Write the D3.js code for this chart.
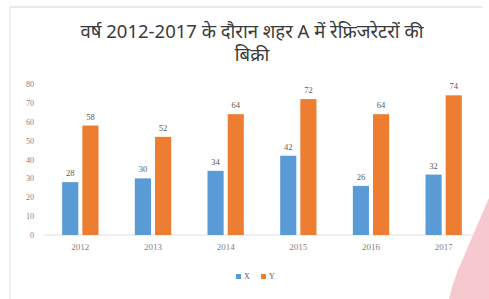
<!DOCTYPE html>
<html>
<head>
<meta charset="utf-8">
<script src="https://cdn.jsdelivr.net/npm/d3@7"></script>
<style>
  body { margin: 0; background: #fff; }
  svg { display: block; }
</style>
</head>
<body>
<svg id="chart"></svg>
<script>
// Chart data
const years = ["2012", "2013", "2014", "2015", "2016", "2017"];
const seriesNames = ["X", "Y"];
const valuesX = [28, 30, 34, 42, 26, 32];
const valuesY = [58, 52, 64, 72, 64, 74];
const yTicks = [0, 10, 20, 30, 40, 50, 60, 70, 80];
const titleLines = ["वर्ष 2012-2017 के दौरान शहर A में रेफ्रिजरेटरों की", "बिक्री"];

const width = 489;
const height = 299;
const colors = { X: "#5b9bd5", Y: "#ed7d31" };

const svg = d3.select("#chart")
  .attr("width", width)
  .attr("height", height);

// frame of the chart area
svg.append("line")
  .attr("x1", 10).attr("x2", 482).attr("y1", 7).attr("y2", 7)
  .attr("stroke", "#d4d4d4");
svg.append("line")
  .attr("x1", 10).attr("x2", 10).attr("y1", 7).attr("y2", 299)
  .attr("stroke", "#e4e4e4");

// title
svg.append("text")
  .attr("text-anchor", "middle")
  .attr("font-family", "'Noto Sans', 'Noto Serif', sans-serif")
  .attr("font-size", 18.5)
  .attr("fill", "#3a3a3a")
  .selectAll("tspan")
  .data(titleLines)
  .join("tspan")
  .attr("x", 252)
  .attr("y", (d, i) => 38 + i * 23)
  .text(d => d);

const table = years.map((year, i) => ({ year, X: valuesX[i], Y: valuesY[i] }));

// scales
const x0 = d3.scaleBand()
  .domain(years)
  .range([44, 480])
  .paddingInner(0.5)
  .paddingOuter(0.25);

const x1 = d3.scaleBand()
  .domain(seriesNames)
  .range([0, x0.bandwidth()])
  .paddingInner(0.2);

const y = d3.scaleLinear()
  .domain([0, 80])
  .range([235, 84]);

// y axis labels
svg.append("g")
  .attr("transform", "translate(34,0)")
  .call(d3.axisLeft(y).tickValues(yTicks).tickSize(0).tickPadding(0))
  .call(g => g.select(".domain").remove())
  .selectAll("text")
  .attr("font-family", "'Liberation Serif', serif")
  .attr("font-size", 8)
  .attr("fill", "#7f7f7f");

// x axis
svg.append("g")
  .attr("transform", "translate(0,235)")
  .call(d3.axisBottom(x0).tickSize(0).tickPadding(9))
  .call(g => g.select(".domain").attr("stroke", "#e0e0e0").attr("d", "M44,0H480"))
  .selectAll("text")
  .attr("font-family", "'Liberation Serif', serif")
  .attr("font-size", 9)
  .attr("fill", "#7f7f7f");

// bars
const groups = svg.append("g")
  .selectAll("g")
  .data(table)
  .join("g")
  .attr("transform", d => `translate(${x0(d.year)},0)`);

groups.selectAll("rect")
  .data(d => seriesNames.map(key => ({ key, value: d[key] })))
  .join("rect")
  .attr("x", d => x1(d.key))
  .attr("y", d => y(d.value))
  .attr("width", x1.bandwidth())
  .attr("height", d => y(0) - y(d.value))
  .attr("fill", d => colors[d.key]);

groups.selectAll("text")
  .data(d => seriesNames.map(key => ({ key, value: d[key] })))
  .join("text")
  .attr("x", d => x1(d.key) + x1.bandwidth() / 2)
  .attr("y", d => y(d.value) - 6)
  .attr("text-anchor", "middle")
  .attr("font-family", "'Liberation Serif', serif")
  .attr("font-size", 8.5)
  .attr("fill", "#595959")
  .text(d => d.value);

// legend
const legend = svg.append("g")
  .attr("transform", "translate(236,274)");
const items = legend.selectAll("g")
  .data(seriesNames)
  .join("g")
  .attr("transform", (d, i) => `translate(${i * 25},0)`);
items.append("rect")
  .attr("width", 5).attr("height", 5)
  .attr("fill", d => colors[d]);
items.append("text")
  .attr("x", 8).attr("y", 5)
  .attr("font-family", "'Liberation Serif', serif")
  .attr("font-size", 8)
  .attr("fill", "#595959")
  .text(d => d);

// pink watermark corner
svg.append("path")
  .attr("d", "M489,198 L489,299 L449,299 Q452,285 458,270 Z")
  .attr("fill", "#f6c9cf");
</script>
</body>
</html>
